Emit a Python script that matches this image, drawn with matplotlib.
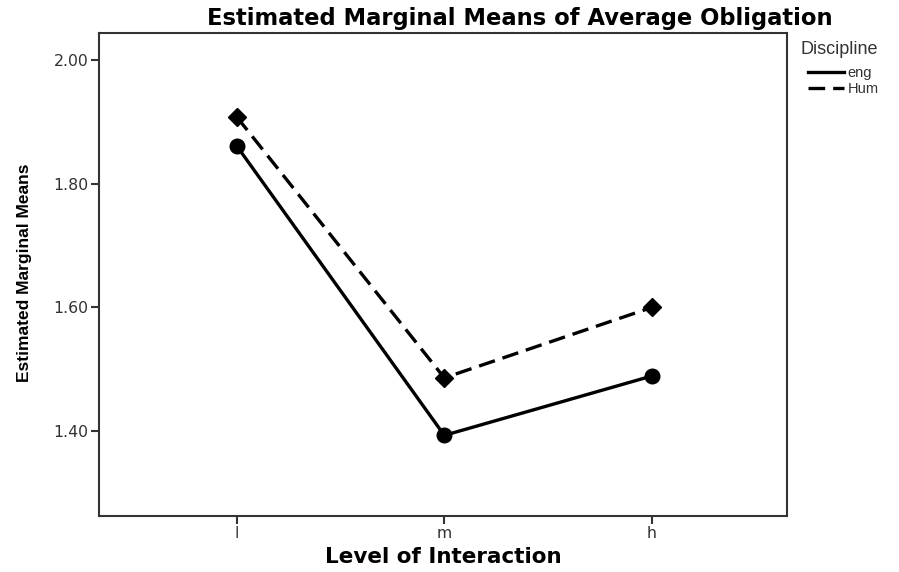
import matplotlib
matplotlib.use("Agg")
import matplotlib.pyplot as plt
from matplotlib.lines import Line2D

levels = ["l", "m", "h"]
eng = [1.861, 1.393, 1.489]
hum = [1.908, 1.486, 1.600]
yticks = [1.40, 1.60, 1.80, 2.00]

DASH = (0, (5, 2.4))

fig = plt.figure(figsize=(8.99, 5.72), dpi=100)
ax = fig.add_axes([0.110, 0.098, 0.765, 0.844])

x = list(range(len(levels)))
ax.plot(x, eng, color="black", lw=2.4, ls="-", marker="o", ms=10.5, zorder=3)
ax.plot(x, hum, color="black", lw=2.4, ls=DASH, marker="D", ms=9, zorder=3)

ax.set_xlim(-0.665, 2.65)
ax.set_ylim(1.2626, 2.0437)
ax.set_xticks(x)
ax.set_xticklabels(levels)
ax.set_yticks(yticks)
ax.set_yticklabels([f"{v:.2f}" for v in yticks])
ax.tick_params(axis="both", direction="out", length=6, width=1.5, color="#333333",
               labelsize=11.3, labelcolor="#333333", pad=1.5)
for lab in ax.get_xticklabels() + ax.get_yticklabels():
    lab.set_family("DejaVu Sans")
for s in ax.spines.values():
    s.set_linewidth(1.5)
    s.set_color("#333333")

fig.text(520 / 899, 1 - 18 / 572, "Estimated Marginal Means of Average Obligation",
         ha="center", va="center", fontsize=16.3, fontweight="bold", family="DejaVu Sans")
fig.text(443 / 899, 1 - 557 / 572, "Level of Interaction",
         ha="center", va="center", fontsize=15.5, fontweight="bold", family="DejaVu Sans")
fig.text(25 / 899, 1 - 273 / 572, "Estimated Marginal Means", rotation=90,
         ha="center", va="center", fontsize=12.5, fontweight="bold", family="Liberation Sans")

fig.text(801 / 899, 1 - 49 / 572, "Discipline", ha="left", va="center",
         fontsize=13, color="#333333", family="Liberation Sans")

handles = [Line2D([], [], color="black", lw=2.4, ls="-"),
           Line2D([], [], color="black", lw=2.4, ls=DASH)]
leg = fig.legend(handles, ["eng", "Hum"], loc="upper left",
                 bbox_to_anchor=(808 / 899, 1 - 66 / 572), frameon=False,
                 prop={"family": "Liberation Sans", "size": 10.5},
                 handlelength=2.5, handletextpad=0.2,
                 labelspacing=0.15, borderaxespad=0, borderpad=0)
for t in leg.get_texts():
    t.set_color("#333333")

fig.savefig("out.png", dpi=100)
